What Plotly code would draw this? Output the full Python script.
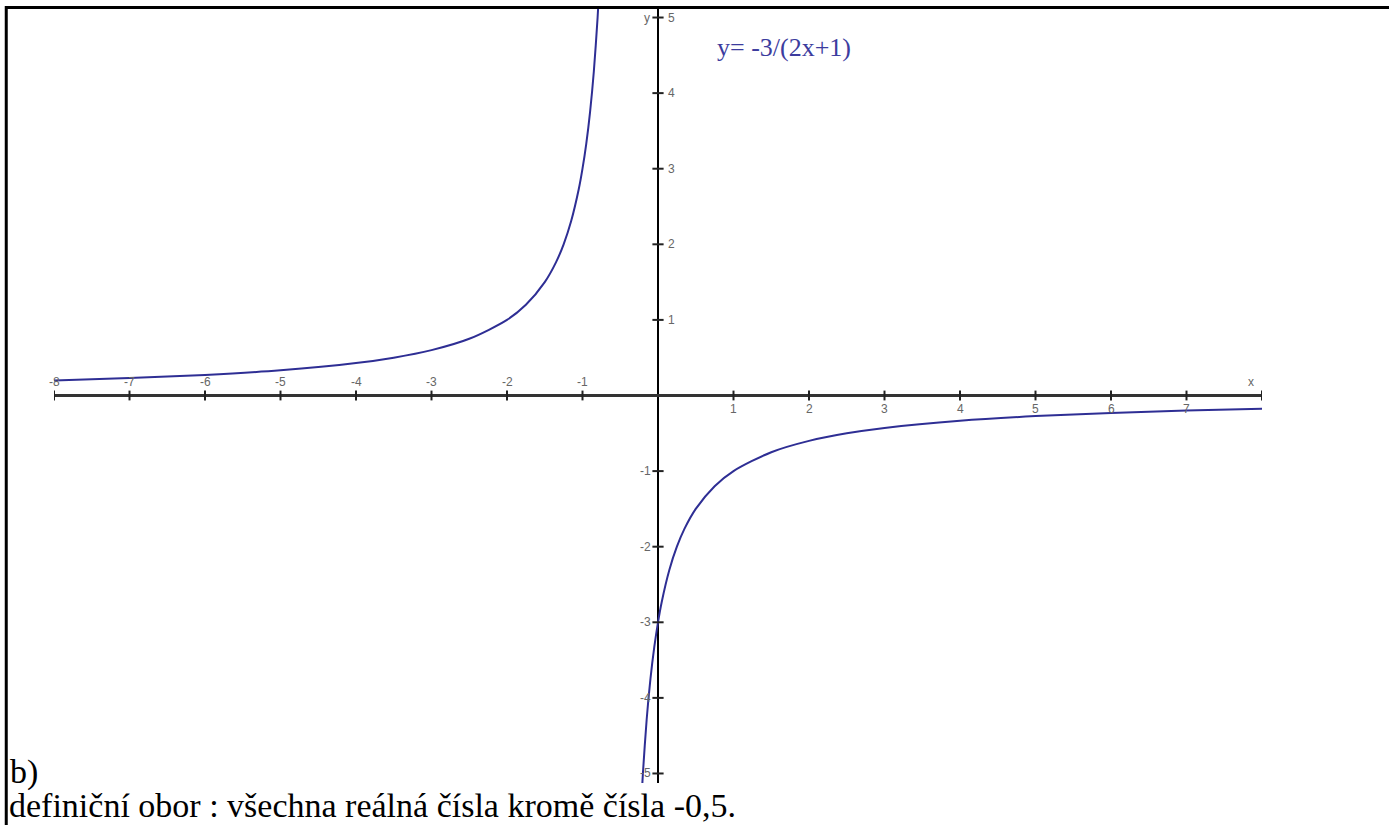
import plotly.graph_objects as go

# Sample points of y = -3/(2x+1), split at the vertical asymptote x = -0.5
left_x = [-8, -7, -6, -5, -4, -3.5, -3, -2.5, -2, -1.75, -1.5, -1.35, -1.25,
          -1.15, -1.05, -1.0, -0.95, -0.9, -0.85, -0.8, -0.78]
left_y = [0.2, 0.2308, 0.2727, 0.3333, 0.4286, 0.5, 0.6, 0.75, 1.0, 1.2, 1.5,
          1.7647, 2.0, 2.3077, 2.7273, 3.0, 3.3333, 3.75, 4.2857, 5.0, 5.3571]

right_x = [-0.22, -0.2, -0.15, -0.1, -0.05, 0, 0.05, 0.15, 0.25, 0.35, 0.5,
           0.75, 1, 1.5, 2, 2.5, 3, 4, 5, 6, 7, 8]
right_y = [-5.3571, -5.0, -4.2857, -3.75, -3.3333, -3.0, -2.7273, -2.3077,
           -2.0, -1.7647, -1.5, -1.2, -1.0, -0.75, -0.6, -0.5, -0.4286,
           -0.3333, -0.2727, -0.2308, -0.2, -0.1765]

x_ticks = [-8, -7, -6, -5, -4, -3, -2, -1, 1, 2, 3, 4, 5, 6, 7, 8]
x_tick_labels = ["-8", "-7", "-6", "-5", "-4", "-3", "-2", "-1",
                 "1", "2", "3", "4", "5", "6", "7", ""]
y_ticks = [-5, -4, -3, -2, -1, 1, 2, 3, 4, 5]
y_tick_labels = ["-5", "-4", "-3", "-2", "-1", "1", "2", "3", "4", "5"]

curve_color = "#2e2e94"
tick_font = dict(family="Liberation Sans", size=12, color="#666666")
serif = "Liberation Serif"

fig = go.Figure()

for xs, ys in ((left_x, left_y), (right_x, right_y)):
    fig.add_trace(go.Scatter(
        x=xs, y=ys, mode="lines",
        line=dict(color=curve_color, width=2, shape="spline", smoothing=0.8),
        hoverinfo="skip"))

# tick marks on both axes
fig.add_trace(go.Scatter(
    x=x_ticks, y=[0] * len(x_ticks), mode="markers",
    marker=dict(symbol="line-ns", size=7, line=dict(width=2, color="#222222")),
    hoverinfo="skip"))
fig.add_trace(go.Scatter(
    x=[0] * len(y_ticks), y=y_ticks, mode="markers",
    marker=dict(symbol="line-ew", size=8, line=dict(width=2, color="#222222")),
    hoverinfo="skip"))

# x tick labels: negatives above the axis, positives below
for v, t in zip(x_ticks, x_tick_labels):
    if not t:
        continue
    fig.add_annotation(x=v, y=0, text=t, showarrow=False, font=tick_font,
                       yshift=13 if v < 0 else -14)

# y tick labels: positives right of the axis, negatives left
for v, t in zip(y_ticks, y_tick_labels):
    fig.add_annotation(x=0, y=v, text=t, showarrow=False, font=tick_font,
                       xshift=13 if v > 0 else -13)

# axis names
fig.add_annotation(x=0, y=5, text="y", showarrow=False, font=tick_font, xshift=-11)
fig.add_annotation(x=8, y=0, text="x", showarrow=False, font=tick_font,
                   xshift=-11, yshift=13)

# function label
fig.add_annotation(x=1.67, y=4.61, text="y= -3/(2x+1)", showarrow=False,
                   font=dict(family=serif, size=26, color="#3c3c9e"))

# text below the graph
fig.add_annotation(xref="paper", yref="paper", x=0.0058, y=0.064,
                   xanchor="left", yanchor="middle", text="b)", showarrow=False,
                   font=dict(family=serif, size=34, color="#000000"))
fig.add_annotation(xref="paper", yref="paper", x=0.0058, y=0.0,
                   xanchor="left", yanchor="bottom", borderpad=0,
                   text="definiční obor : všechna reálná čísla kromě čísla -0,5.",
                   showarrow=False,
                   font=dict(family=serif, size=34, color="#000000"))

# page frame: top rule and left rule
fig.add_shape(type="line", xref="paper", yref="paper", x0=0.0036, x1=1,
              y0=1 - 7.5 / 825, y1=1 - 7.5 / 825, line=dict(color="#000000", width=3))
fig.add_shape(type="line", xref="paper", yref="paper", x0=0.0045, x1=0.0045,
              y0=0, y1=1 - 6 / 825, line=dict(color="#000000", width=3))

fig.update_layout(
    width=1389, height=825,
    margin=dict(l=0, r=0, t=0, b=0),
    paper_bgcolor="white", plot_bgcolor="white",
    showlegend=False,
    xaxis=dict(domain=[54 / 1389, 1262 / 1389], range=[-8, 8],
               showgrid=False, showticklabels=False, ticks="",
               zeroline=True, zerolinecolor="#000000", zerolinewidth=2,
               fixedrange=True),
    yaxis=dict(domain=[42 / 825, 817 / 825], range=[-5.126, 5.126],
               showgrid=False, showticklabels=False, ticks="",
               zeroline=True, zerolinecolor="#333333", zerolinewidth=3,
               fixedrange=True),
)

fig.write_html("out.html")
